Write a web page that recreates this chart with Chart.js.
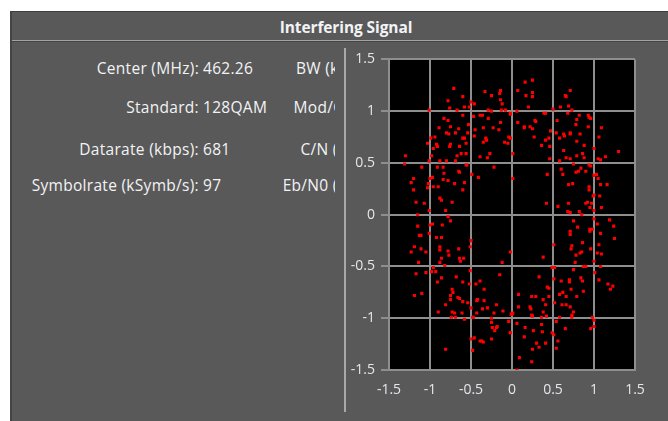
<!DOCTYPE html>
<html lang="en">

<head>
    <meta charset="UTF-8">
    <title>Interfering Signal</title>
    <style>
        body {
            margin: 0;
            width: 668px;
            height: 421px;
            overflow: hidden;
            background: #ffffff;
            font-family: "Open Sans", sans-serif;
            color: #f2f3f5;
        }

        .painel {
            position: absolute;
            left: 10px;
            top: 11px;
            width: 680px;
            height: 420px;
            background: #595959;
            border-top: 1px solid #3e3e3e;
            border-left: 2px solid #454545;
        }

        .titulo {
            position: absolute;
            left: 10px;
            width: 672px;
            top: 17px;
            text-align: center;
            font-weight: bold;
            font-size: 15.5px;
            line-height: 20px;
            letter-spacing: -0.1px;
        }

        .linha-titulo {
            position: absolute;
            left: 12px;
            top: 40px;
            width: 660px;
            height: 1px;
            background: #a3a3a3;
            border-bottom: 1px solid #444;
        }

        .infos {
            position: absolute;
            left: 12px;
            top: 48px;
            width: 323px;
            height: 160px;
            overflow: hidden;
            font-size: 15.5px;
            letter-spacing: 0.3px;
        }

        .infos div {
            position: absolute;
            white-space: nowrap;
            line-height: 20px;
        }

        .divisor {
            position: absolute;
            left: 344px;
            top: 48px;
            width: 2px;
            height: 364px;
            background: #a9a9a9;
        }

        #grafico-iq {
            position: absolute;
            left: 346px;
            top: 45px;
        }
    </style>
</head>

<body>
    <div class="painel"></div>
    <div class="titulo">Interfering Signal</div>
    <div class="linha-titulo"></div>
    <div class="infos" id="infos"></div>
    <div class="divisor"></div>
    <canvas id="grafico-iq" width="322" height="365"></canvas>
</body>

</html>
<script src="https://cdn.jsdelivr.net/npm/chart.js"></script>
<script>
    // textos do painel da esquerda
    var rotulos = ['Center (MHz):', 'Standard:', 'Datarate (kbps):', 'Symbolrate (kSymb/s):'];
    var valores = ['462.26', '128QAM', '681', '97'];
    var rotulos2 = ['BW (kHz):', 'Mod/Cod:', 'C/N (dB):', 'Eb/N0 (dB):'];

    // ticks dos dois eixos
    var ticksEixo = [-1.5, -1, -0.5, 0, 0.5, 1, 1.5];

    // constelacao (I, Q)
    var pontosI = [
        -0.71, -0.78, -0.60, -0.33, -0.25, -0.15, -0.14, -0.14, -0.12, -0.76, -0.67, -0.58, -0.52, -0.50, -0.46,
        -1.01, -0.29, -0.25, -0.13, -0.08, -0.02, -0.83, -0.78, -0.60, -0.47, -0.39, -0.36, -0.29, -0.14, -0.53,
        -0.75, -0.89, -0.65, -0.45, -0.35, -0.23, -0.16, -0.80, -0.77, -0.69, -0.54, -0.60, -0.58, -0.46, -0.99,
        -0.94, -1.03, -0.92, -0.91, -0.96, -0.75, -0.76, -0.64, -0.56, -0.35, -0.32, -0.31, -0.09, -0.05, -0.04,
        -0.02, -0.62, -0.56, -0.67, -0.98, -1.30, -0.39, -0.27, -0.30, -0.88, -0.80, -0.69, -1.01, -1.31, -0.55,
        // quadrante superior direito
        0.16, 0.25, 0.07, 0.17, 0.25, 0.25, 0.20, 0.71, 0.65, 0.66, 0.69, 0.59, 0.50, 0.73, 0.06,
        -0.02, 0.39, 0.41, 0.68, 0.82, 0.93, 0.94, 0.96, 0.55, 0.79, 0.07, 0.28, 0.29, 0.78, 0.93,
        0.15, 0.15, 0.22, 0.25, 1.09, 0.47, 0.54, 0.63, 0.64, 0.71, 0.71, 0.83, 1.06, 0.27, 0.58,
        0.41, 0.45, 0.79, 0.36, 0.46, 0.88, 0.63, 1.00, 1.30, 0.86, 0.79, 0.88, 0.66, 0.71, 0.46,
        0.58, 0.75, 0.94, 1.05, 1.08, 1.14, 0.01,
        // meio esquerda
        -1.10, -0.91, -0.84, -0.56, -0.22, -0.83, -0.65, -0.64, -0.49, -0.41, -1.20, -1.00, -0.97, -0.84, -0.78,
        -1.23, -1.02, -0.70, -0.58, -0.96, -0.90, -1.03, -1.20, -0.60, -0.88, -0.86, -1.17, -1.07, -0.73, -1.01,
        -0.81, -1.15, -0.78, -0.75, -1.00, -0.97, -0.85, -1.15, -1.01, -1.13, -1.11, -0.92, -0.86, -0.50, -1.19,
        -1.11, -0.88, -0.88, -0.65, -0.51, -1.23, -1.05, -0.78, -0.77, -0.86, -0.64, -0.59, -0.63, -1.14, -0.88,
        -0.82, -0.12, -0.02,
        // meio direita
        0.01, 0.43, 0.60, 0.62, 0.84, 0.90, 0.96, 0.78, 0.81, 1.00, 1.03, 1.05, 0.69, 0.74, 0.94,
        0.94, 1.08, 1.16, 0.42, 0.56, 0.69, 0.90, 0.92, 0.97, 0.99, 1.00, 1.07, 0.95, 1.09, 0.68,
        0.71, 0.82, 0.85, 1.00, 1.00, 1.04, 1.19, 1.24, 0.75, 0.80, 0.71, 0.71, 0.95, 0.95, 0.98,
        1.08, 1.25, 0.86, 0.51, 0.73, 0.72, 0.96, 1.06, 0.85, 0.83, 1.04, 1.09, 0.78, 0.38, 1.00,
        0.77,
        // inferior esquerda
        -1.17, -1.05, -0.98, -0.96, -0.93, -0.51, -0.86, -0.68, -0.91, -0.60, -0.52, -0.44, -0.39, -0.15, -0.73,
        -0.72, -0.34, -1.19, -1.10, -0.75, -0.66, -0.64, -0.75, -0.60, -0.54, -0.43, -0.42, -0.34, -0.81, -0.50,
        -0.30, -0.19, -0.36, -0.11, 0.00, -0.90, -0.73, -0.70, -0.61, -0.43, -0.22, -0.74, -0.69, -0.58, -0.48,
        -0.47, -0.25, -0.24, -0.19, -0.18, -0.21, -0.25, -0.04, -0.02, -0.50, -0.46, -0.39, -0.37, -0.35, -0.25,
        -0.81, -0.48,
        // inferior direita
        0.49, 0.52, 0.75, 0.87, 0.90, 1.01, 1.08, 0.33, 0.51, 0.60, 0.70, 0.70, 0.84, 0.86, 1.06,
        1.17, 1.23, 1.20, 0.43, 0.45, 0.72, 0.62, 0.87, 0.08, 0.24, 0.29, 0.45, 0.58, 0.66, 0.79,
        0.38, 0.52, 0.41, 0.61, 0.66, 0.71, 0.08, 0.22, 0.23, 0.38, 0.75, 0.01, -0.01, 0.24, 0.25,
        0.36, 0.42, 0.58, 0.73, 0.73, 0.98, 1.00, 1.00, 0.96, 0.54, 0.06, 0.36, 0.16, 0.65, -0.02,
        0.26, 0.37, 0.49, 0.51, 0.15, 0.56, 0.30, 0.41, 0.33, 0.54, 0.25, 0.09, 0.24, 0.06
    ];
    var pontosQ = [
        1.22, 1.10, 1.14, 1.19, 1.15, 1.17, 1.20, 1.11, 1.07, 1.03, 1.01, 1.04, 1.04, 1.09, 1.07,
        1.01, 1.01, 1.00, 1.01, 1.01, 0.98, 0.93, 0.91, 0.96, 0.95, 0.96, 0.96, 0.93, 0.89, 0.87,
        0.85, 0.84, 0.83, 0.82, 0.84, 0.84, 0.82, 0.79, 0.78, 0.79, 0.79, 0.74, 0.74, 0.76, 0.74,
        0.75, 0.69, 0.68, 0.66, 0.64, 0.68, 0.66, 0.66, 0.69, 0.70, 0.74, 0.72, 0.70, 0.69, 0.75,
        0.74, 0.59, 0.59, 0.57, 0.57, 0.57, 0.56, 0.59, 0.55, 0.52, 0.52, 0.52, 0.52, 0.49, 0.48,
        // quadrante superior direito
        1.28, 1.30, 1.20, 1.15, 1.18, 1.14, 1.04, 1.20, 1.15, 1.14, 1.05, 1.04, 1.02, 1.01, 1.00,
        0.97, 0.98, 0.98, 0.98, 0.96, 0.96, 0.94, 0.93, 0.91, 0.92, 0.89, 0.91, 0.90, 0.87, 0.85,
        0.85, 0.84, 0.85, 0.83, 0.84, 0.81, 0.79, 0.78, 0.76, 0.79, 0.78, 0.78, 0.75, 0.75, 0.74,
        0.72, 0.74, 0.71, 0.67, 0.66, 0.67, 0.62, 0.64, 0.61, 0.59, 0.57, 0.55, 0.55, 0.54, 0.54,
        0.52, 0.49, 0.48, 0.54, 0.53, 0.56, 0.59,
        // meio esquerda
        0.46, 0.46, 0.46, 0.48, 0.46, 0.40, 0.42, 0.41, 0.39, 0.36, 0.35, 0.35, 0.36, 0.34, 0.33,
        0.31, 0.30, 0.30, 0.31, 0.27, 0.27, 0.26, 0.24, 0.24, 0.16, 0.14, 0.12, 0.11, 0.12, 0.04,
        0.04, 0.00, -0.02, -0.06, -0.10, -0.09, -0.10, -0.11, -0.18, -0.20, -0.20, -0.22, -0.22, -0.25, -0.31,
        -0.33, -0.31, -0.34, -0.33, -0.31, -0.36, -0.36, -0.35, -0.39, -0.42, -0.42, -0.42, -0.45, -0.46, -0.46,
        -0.49, -0.46, -0.36,
        // meio direita
        0.35, 0.39, 0.44, 0.39, 0.45, 0.42, 0.47, 0.41, 0.42, 0.38, 0.39, 0.35, 0.29, 0.30, 0.27,
        0.24, 0.29, 0.29, 0.11, 0.08, 0.11, 0.11, 0.12, 0.11, 0.18, 0.19, 0.18, 0.07, 0.07, 0.03,
        0.02, 0.03, 0.00, 0.04, -0.04, -0.09, -0.05, -0.11, -0.06, -0.12, -0.16, -0.19, -0.16, -0.14, -0.14,
        -0.18, -0.23, -0.27, -0.29, -0.30, -0.33, -0.33, -0.29, -0.36, -0.37, -0.37, -0.38, -0.39, -0.41, -0.45,
        -0.46,
        // inferior esquerda
        -0.57, -0.56, -0.55, -0.51, -0.55, -0.54, -0.61, -0.60, -0.65, -0.65, -0.67, -0.67, -0.64, -0.58, -0.72,
        -0.75, -0.72, -0.78, -0.76, -0.78, -0.80, -0.81, -0.82, -0.84, -0.85, -0.83, -0.82, -0.83, -0.87, -0.90,
        -0.90, -0.87, -0.91, -0.93, -0.96, -0.94, -0.94, -0.95, -0.95, -0.95, -0.95, -0.99, -0.99, -1.01, -0.99,
        -0.99, -1.00, -1.09, -1.09, -1.08, -1.12, -1.04, -1.03, -1.14, -1.20, -1.19, -1.22, -1.22, -1.23, -1.20,
        -1.30, -1.31,
        // inferior direita
        -0.51, -0.51, -0.53, -0.50, -0.50, -0.56, -0.50, -0.60, -0.62, -0.64, -0.63, -0.65, -0.61, -0.64, -0.63,
        -0.67, -0.69, -0.72, -0.70, -0.71, -0.72, -0.75, -0.74, -0.77, -0.79, -0.79, -0.79, -0.77, -0.79, -0.79,
        -0.82, -0.85, -0.87, -0.87, -0.87, -0.89, -0.89, -0.89, -0.91, -0.94, -0.94, -0.95, -0.96, -0.97, -0.98,
        -0.99, -0.98, -0.99, -0.99, -0.97, -0.99, -1.02, -1.08, -1.10, -1.03, -1.05, -1.06, -1.09, -1.10, -1.14,
        -1.12, -1.13, -1.14, -1.16, -1.18, -1.22, -1.24, -1.24, -1.28, -1.29, -1.30, -1.38, -1.42, -1.50
    ];

    // monta o painel de informacoes
    var infos = document.getElementById('infos');
    var linhasY = [10, 49, 91, 127];
    for (let i = 0; i < rotulos.length; i++) {
        var r = document.createElement('div');
        r.textContent = rotulos[i];
        r.style.top = linhasY[i] + 'px';
        r.style.right = (323 - 187) + 'px';
        infos.appendChild(r);

        var v = document.createElement('div');
        v.textContent = valores[i];
        v.style.top = linhasY[i] + 'px';
        v.style.left = '191px';
        infos.appendChild(v);

        var r2 = document.createElement('div');
        r2.textContent = rotulos2[i];
        r2.style.top = linhasY[i] + 'px';
        r2.style.right = '-32px';
        infos.appendChild(r2);
    }

    var dadosIQ = [];
    for (let i = 0; i < pontosI.length; i++) {
        dadosIQ.push({ x: pontosI[i], y: pontosQ[i] });
    }

    // fundo preto so na area do grafico
    var fundoPreto = {
        id: 'fundoPreto',
        beforeDraw: function (chart) {
            var a = chart.chartArea;
            chart.ctx.save();
            chart.ctx.fillStyle = '#000000';
            chart.ctx.fillRect(a.left, a.top, a.right - a.left, a.bottom - a.top);
            chart.ctx.restore();
        }
    };

    var corGrade = '#8e8e8e';
    var fonteTicks = { family: 'Open Sans', size: 14 };

    var graficoIQ = new Chart(document.getElementById('grafico-iq'), {
        type: 'scatter',
        data: {
            datasets: [{
                label: 'Constelação',
                data: dadosIQ,
                backgroundColor: '#ff0000',
                borderWidth: 0,
                pointStyle: 'rect',
                pointRadius: 2.2,
                pointHoverRadius: 2.2
            }]
        },
        options: {
            responsive: false,
            animation: false,
            devicePixelRatio: 1,
            layout: {
                padding: { left: 0, right: 33, top: 12, bottom: 10 }
            },
            plugins: {
                legend: { display: false },
                tooltip: { enabled: false }
            },
            scales: {
                x: {
                    type: 'linear',
                    min: -1.5,
                    max: 1.5,
                    afterBuildTicks: function (scale) {
                        scale.ticks = ticksEixo.map(v => ({ value: v }));
                    },
                    afterFit: function (scale) {
                        scale.height = 30;
                    },
                    grid: { color: corGrade, lineWidth: 2, drawTicks: false },
                    border: { color: corGrade, width: 2 },
                    ticks: {
                        color: '#e4e6ea',
                        font: fonteTicks,
                        padding: 12,
                        maxRotation: 0,
                        callback: v => String(v)
                    }
                },
                y: {
                    type: 'linear',
                    min: -1.5,
                    max: 1.5,
                    afterBuildTicks: function (scale) {
                        scale.ticks = ticksEixo.map(v => ({ value: v }));
                    },
                    afterFit: function (scale) {
                        scale.width = 43;
                    },
                    grid: { color: corGrade, lineWidth: 2, tickLength: 8 },
                    border: { color: corGrade, width: 2 },
                    ticks: {
                        color: '#e4e6ea',
                        font: fonteTicks,
                        padding: 6,
                        callback: v => String(v)
                    }
                }
            }
        },
        plugins: [fundoPreto]
    });
</script>
